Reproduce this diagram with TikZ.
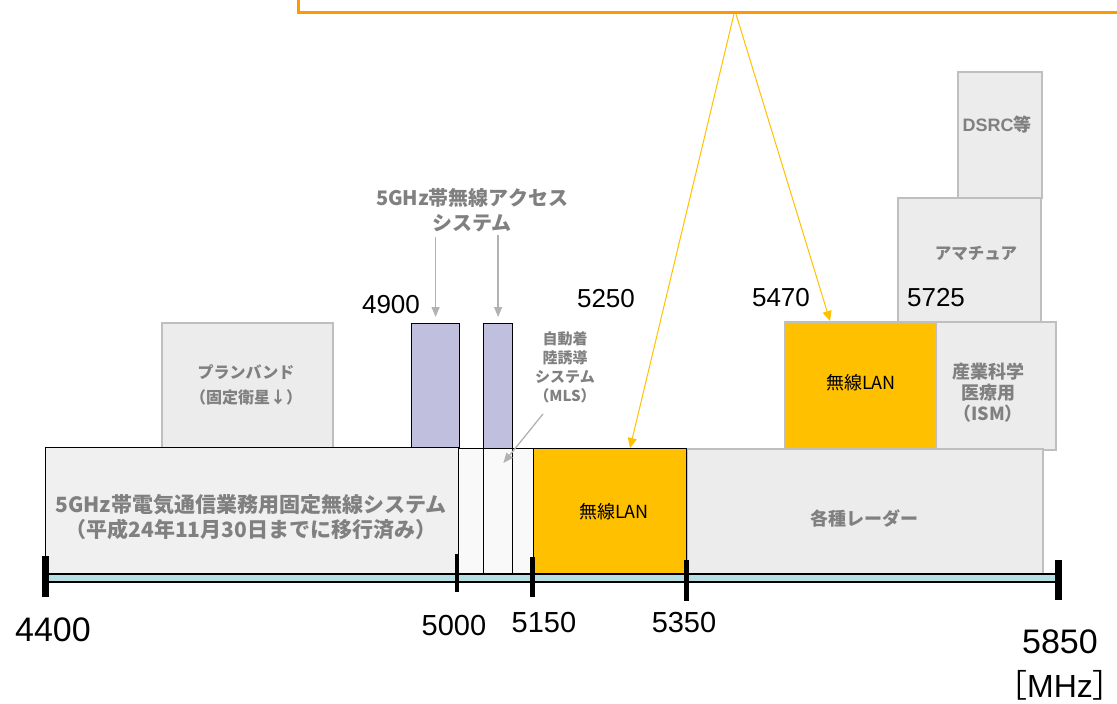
\documentclass[tikz,border=0pt]{standalone}
\usepackage{fontspec}
\usepackage{xcolor}
\usepackage{tikz}
\usetikzlibrary{arrows.meta}
\setmainfont{Liberation Sans}
\newfontfamily\jp{Noto Sans CJK JP}
\definecolor{boxgray}{RGB}{236,236,236}
\definecolor{maingray}{RGB}{240,240,240}
\definecolor{palegray}{RGB}{249,249,249}
\definecolor{linegray}{RGB}{191,191,191}
\definecolor{textgray}{RGB}{128,128,128}
\definecolor{arrowgray}{RGB}{178,178,178}
\definecolor{lanyellow}{RGB}{255,192,0}
\definecolor{notecolor}{RGB}{255,153,0}
\definecolor{bandpurple}{RGB}{192,192,222}
\definecolor{axiscyan}{RGB}{183,222,226}

\begin{document}
\begin{tikzpicture}[x=1pt, y=-1pt,
    box/.style={draw=linegray, line width=1.8pt, fill=boxgray, inner sep=0pt, anchor=north west},
    blackbox/.style={draw=black, line width=1.4pt, inner sep=0pt, anchor=north west},
    lbl/.style={text=textgray, align=center, inner sep=1pt, font=\jp\bfseries},
    num/.style={inner sep=0pt},
    grayarrow/.style={draw=arrowgray, line width=1.3pt, -{Triangle[length=10pt,width=8pt]}},
    lanarrow/.style={draw=lanyellow, line width=1pt, -{Triangle[length=10pt,width=9pt]}}]
    \path[use as bounding box, clip] (0,0) rectangle (1117,704);
    % Note box at the top
    \node[draw=notecolor, line width=3pt, fill=white, inner sep=0pt, anchor=north west,
          minimum width=860pt, minimum height=50pt] (note) at (297,-39) {};
    % Upper bands
    \node[box, minimum width=84pt, minimum height=126pt] (dsrc) at (957,71) {};
    \node[box, minimum width=143pt, minimum height=124pt] (ama) at (897,197) {};
    \node[box, minimum width=171pt, minimum height=125pt] (plan) at (161,322) {};
    \node[blackbox, fill=bandpurple, line width=1.2pt, minimum width=48pt, minimum height=125pt] (pb1) at (411,323) {};
    \node[blackbox, fill=bandpurple, line width=1.2pt, minimum width=29pt, minimum height=125pt] (pb2) at (483,323) {};
    \node[box, fill=lanyellow, minimum width=151pt, minimum height=127pt] (lan2) at (784,321) {};
    \node[box, minimum width=120pt, minimum height=128pt] (ism) at (935,321) {};
    % Lower bands
    \node[blackbox, fill=maingray, minimum width=413pt, minimum height=126pt] (main) at (45,447) {};
    \node[blackbox, fill=palegray, line width=1.2pt, minimum width=75pt, minimum height=125pt] (gap) at (458,448) {};
    \node[blackbox, fill=palegray, line width=1.4pt, minimum width=29pt, minimum height=125pt] (mid) at (483,448) {};
    \node[box, minimum width=356pt, minimum height=125pt] (radar) at (686,448) {};
    \node[blackbox, fill=lanyellow, minimum width=153pt, minimum height=125pt] (lan1) at (533,448) {};
    % Labels
    \node[lbl, font=\jp\bfseries\fontsize{21}{25}\selectfont] (maintxt) at (251,517)
        {5GHz帯電気通信業務用固定無線システム\\（平成24年11月30日までに移行済み）};
    \node[lbl, font=\jp\bfseries\fontsize{16}{25}\selectfont] (plantxt) at (246,385)
        {プランバンド\\（固定衛星↓）};
    \node[lbl, font=\jp\bfseries\fontsize{20}{25}\selectfont] (access) at (472,210)
        {5GHz帯無線アクセス\\システム};
    \node[lbl, font=\jp\bfseries\fontsize{15}{19}\selectfont] (mls) at (565,367)
        {自動着\\陸誘導\\システム\\（MLS）};
    \node[font=\jp\fontsize{18}{22}\selectfont] (lan1txt) at (614,512) {無線LAN};
    \node[font=\jp\fontsize{18}{22}\selectfont] (lan2txt) at (861,383) {無線LAN};
    \node[lbl, font=\jp\bfseries\fontsize{18}{22}\selectfont] (radartxt) at (864,519) {各種レーダー};
    \node[lbl, font=\jp\bfseries\fontsize{18}{21}\selectfont] (ismtxt) at (988,393)
        {産業科学\\医療用\\（ISM）};
    \node[lbl, font=\jp\bfseries\fontsize{16.5}{20}\selectfont] (amatxt) at (976,253) {アマチュア};
    \node[lbl, font=\bfseries\fontsize{18}{22}\selectfont] (dsrctxt) at (997,125) {DSRC{\jp 等}};
    % Axis
    \fill[axiscyan] (45,574) rectangle (1058,582);
    \draw[line width=1.5pt] (45,574) -- (1058,574);
    \draw[line width=2.4pt] (45,582) -- (1058,582);
    \draw[line width=7pt] (45,556) -- (45,597);
    \draw[line width=4.5pt] (457,554) -- (457,592);
    \draw[line width=5pt] (532,557) -- (532,597);
    \draw[line width=5pt] (686,560) -- (686,601);
    \draw[line width=7pt] (1058,560) -- (1058,600);
    % Frequencies
    \node[num, font=\fontsize{34}{40}\selectfont] (n4400) at (53,630) {4400};
    \node[num, font=\fontsize{29}{34}\selectfont] (n5000) at (454,626) {5000};
    \node[num, font=\fontsize{29}{34}\selectfont] (n5150) at (544,623) {5150};
    \node[num, font=\fontsize{29}{34}\selectfont] (n5350) at (684,623) {5350};
    \node[num, font=\fontsize{34}{40}\selectfont] (n5850) at (1060,642) {5850};
    \node[num, font=\fontsize{32}{38}\selectfont] (mhz) at (1060,685)
        {\kern-14pt{\jp ［}MHz{\jp ］}\kern-14pt};
    \node[num, font=\fontsize{26}{30}\selectfont] (n4900) at (391,305) {4900};
    \node[num, font=\fontsize{26}{30}\selectfont] (n5250) at (606,299) {5250};
    \node[num, font=\fontsize{26}{30}\selectfont] (n5470) at (781,298) {5470};
    \node[num, font=\fontsize{26}{30}\selectfont] (n5725) at (936,298) {5725};
    % Arrows
    \draw[grayarrow, shorten <=4pt, shorten >=6pt] (access.south -| pb1.north) -- (pb1.north);
    \draw[grayarrow, shorten <=2pt, shorten >=6pt] (access.south -| pb2.north) -- (pb2.north);
    \draw[grayarrow] ([xshift=-22pt,yshift=-10pt]mls.south) -- ([xshift=-10pt,yshift=-15pt]mid.north east);
    \draw[lanarrow] ([xshift=437pt]note.south west) -- ([xshift=97pt]lan1.north west);
    \draw[lanarrow] ([xshift=439pt]note.south west) -- ([xshift=46pt]lan2.north west);
\end{tikzpicture}
\end{document}
